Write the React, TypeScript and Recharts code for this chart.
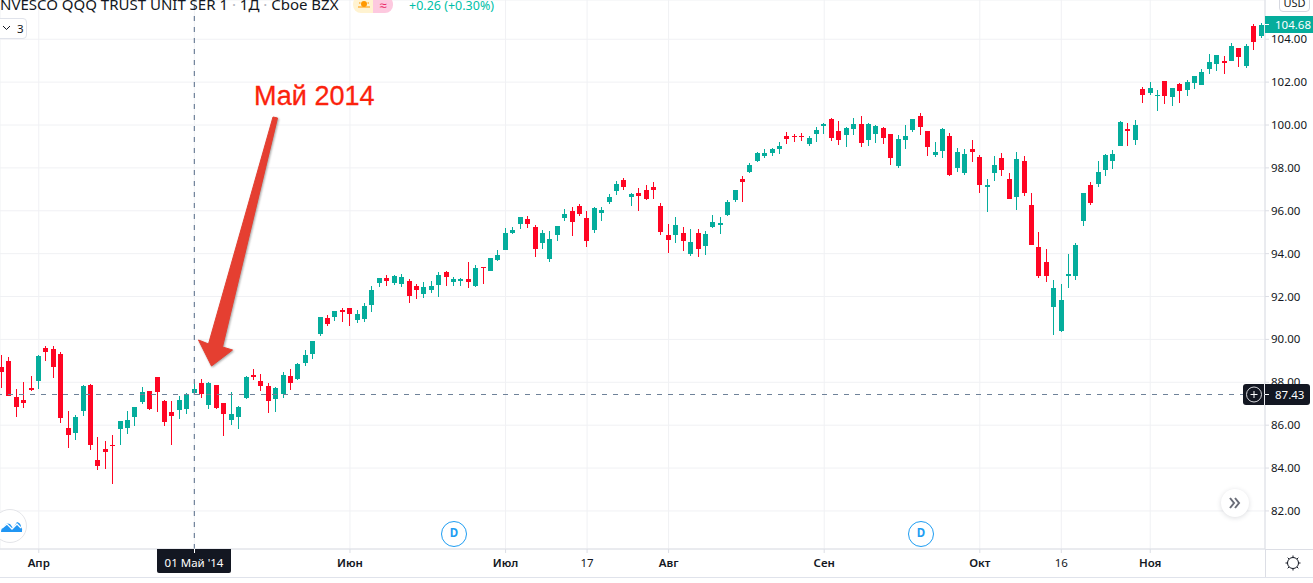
import React from "react";
import {
  Bar,
  CartesianGrid,
  ComposedChart,
  ReferenceLine,
  XAxis,
  YAxis,
} from "recharts";

// QQQ daily candles
const opens = [
  88.71, 88.99, 87.32, 87.18, 87.74, 88.06, 89.6, 89.55, 89.32, 85.88,
  85.64, 86.67, 87.88, 84.39, 84.9, 85.09, 85.83, 85.88, 86.39, 87.09,
  87.6, 88.25, 87.13, 86.62, 86.71, 86.76, 87.5, 87.97, 86.95, 87.88,
  87.04, 86.25, 86.39, 87.27, 88.34, 88.06, 87.83, 87.22, 87.46, 88.29,
  88.16, 88.9, 89.32, 90.26, 91.01, 91.05, 91.38, 91.47, 90.91, 90.96,
  91.61, 92.64, 92.87, 92.64, 92.59, 92.73, 92.5, 92.12, 92.31, 92.54,
  93.15, 92.68, 92.73, 92.82, 92.5, 93.38, 93.19, 93.7, 94.17, 94.96,
  95.38, 95.61, 95.24, 94.5, 93.75, 94.87, 95.66, 95.98, 96.22, 95.66,
  95.1, 95.89, 96.4, 96.91, 97.42, 96.62, 96.81, 96.99, 97.13, 96.2,
  94.85, 94.85, 94.95, 93.97, 94.95, 94.34, 95.22, 95.32, 95.78, 96.48,
  97.46, 97.83, 98.34, 98.57, 98.71, 98.9, 99.5, 99.5, 99.5, 99.13,
  99.6, 99.97, 100.29, 99.74, 99.55, 99.83, 100.06, 99.32, 99.6, 99.87,
  99.6, 98.11, 99.32, 99.78, 100.43, 99.74, 98.62, 98.81, 99.5, 98.01,
  97.74, 98.9, 98.53, 97.13, 97.74, 98.48, 97.5, 96.62, 98.34, 96.29,
  94.29, 93.6, 91.5, 90.39, 92.95, 92.95, 95.5, 97.18, 97.27, 97.92,
  98.34, 99.04, 99.83, 99.32, 101.69, 101.5, 101.36, 102.06, 101.32, 101.92,
  101.64, 101.97, 101.88, 102.62, 102.85, 102.99, 102.99, 103.6, 102.76, 104.62,
  104.15,
];
const highs = [
  89.27, 89.18, 87.67, 88.02, 88.29, 89.27, 89.69, 89.69, 89.41, 86.67,
  86.48, 87.88, 87.92, 85.46, 85.27, 85.55, 86.2, 86.67, 86.85, 87.78,
  87.6, 88.25, 87.18, 87.13, 87.36, 87.5, 88.16, 88.16, 88.02, 87.88,
  87.04, 87.55, 86.9, 88.29, 88.62, 88.39, 87.97, 87.78, 88.48, 88.62,
  88.9, 89.5, 89.92, 91.05, 91.15, 91.33, 91.47, 91.47, 91.38, 91.71,
  92.5, 92.87, 93.01, 93.01, 93.05, 92.82, 92.59, 92.68, 92.73, 93.15,
  93.19, 92.91, 92.87, 93.61, 93.47, 93.38, 93.8, 94.17, 95.19, 95.24,
  95.7, 95.75, 95.33, 95.1, 95.05, 95.29, 96.08, 96.17, 96.31, 95.98,
  96.17, 96.17, 96.77, 97.38, 97.52, 96.85, 97.04, 97.22, 97.32, 96.34,
  95.36, 95.69, 95.22, 95.13, 95.13, 95.04, 95.78, 95.69, 96.48, 96.95,
  97.64, 98.25, 98.76, 98.9, 98.94, 99.22, 99.69, 99.6, 99.64, 99.5,
  99.92, 100.11, 100.34, 100.2, 99.92, 100.34, 100.43, 100.11, 100.01, 99.92,
  99.6, 99.55, 100.01, 100.29, 100.57, 99.74, 99.22, 99.87, 99.64, 98.94,
  98.9, 99.32, 98.62, 97.5, 98.57, 98.71, 97.78, 98.76, 98.57, 96.85,
  94.99, 94.2, 92.76, 92.57, 93.97, 94.48, 96.85, 97.32, 98.34, 98.67,
  98.85, 100.2, 100.11, 100.25, 101.78, 102.02, 101.64, 102.06, 101.74, 101.97,
  102.11, 102.29, 102.62, 103.32, 103.27, 103.22, 103.83, 103.6, 103.78, 104.71,
  104.76,
];
const lows = [
  87.75, 87.36, 86.4, 86.82, 87.6, 87.69, 88.99, 88.2, 86.11, 84.95,
  85.32, 86.43, 84.85, 83.92, 83.97, 83.27, 85.09, 85.6, 85.97, 86.99,
  86.71, 86.62, 85.97, 85.09, 86.29, 86.53, 87.5, 87.27, 86.76, 86.76,
  85.5, 86.02, 85.83, 87.22, 88.11, 87.6, 86.57, 86.62, 87.27, 87.64,
  88.11, 88.76, 89.09, 90.17, 90.64, 90.87, 90.82, 90.64, 90.78, 90.82,
  91.29, 92.45, 92.5, 92.54, 92.45, 91.71, 91.89, 91.94, 92.17, 91.98,
  92.5, 92.5, 92.5, 92.4, 92.45, 92.59, 93.19, 93.66, 94.17, 94.91,
  95.15, 95.19, 93.84, 94.22, 93.61, 94.59, 95.52, 94.82, 95.75, 94.31,
  94.96, 95.52, 96.31, 96.73, 96.96, 96.2, 95.97, 96.48, 96.57, 94.85,
  94.02, 94.48, 94.11, 93.88, 93.83, 93.92, 95.18, 94.9, 95.74, 96.39,
  96.43, 97.74, 98.29, 98.48, 98.57, 98.67, 99.13, 99.22, 99.27, 99.04,
  99.22, 99.6, 99.27, 99.08, 98.99, 99.55, 98.99, 99.04, 99.18, 99.13,
  98.15, 98.01, 98.9, 99.69, 99.55, 98.57, 98.53, 98.48, 97.64, 97.83,
  97.69, 98.29, 96.85, 95.92, 97.41, 97.6, 96.53, 96.02, 96.67, 94.39,
  92.85, 92.67, 90.2, 90.34, 92.39, 92.76, 95.27, 96.25, 97.13, 97.6,
  97.97, 99.04, 99.04, 99.09, 101.04, 101.41, 100.67, 100.99, 100.9, 101.04,
  101.36, 101.69, 101.88, 102.39, 102.53, 102.39, 102.99, 102.71, 102.67, 103.5,
  104.06,
];
const closes = [
  88.48, 87.36, 86.85, 87.04, 87.64, 89.22, 89.41, 88.71, 86.34, 85.55,
  86.39, 87.83, 85.09, 84.11, 84.76, 85.04, 86.2, 86.25, 86.85, 87.55,
  86.76, 87.55, 86.16, 86.43, 87.18, 87.43, 87.69, 87.46, 87.97, 86.81,
  86.53, 86.53, 86.85, 88.25, 88.25, 87.83, 87.13, 87.74, 88.34, 87.97,
  88.85, 89.27, 89.92, 91.05, 90.73, 91.33, 91.29, 91.19, 91.19, 91.57,
  92.31, 92.87, 92.73, 92.96, 92.91, 92.03, 92.31, 92.45, 92.5, 93.01,
  92.91, 92.82, 92.82, 92.68, 93.33, 93.33, 93.8, 93.94, 94.96, 95.1,
  95.7, 95.38, 94.22, 94.96, 94.68, 95.29, 95.84, 95.47, 95.84, 94.59,
  96.12, 96.03, 96.63, 97.24, 97.1, 96.76, 96.71, 96.57, 96.95, 94.99,
  94.62, 95.32, 94.57, 94.53, 94.2, 94.9, 95.46, 95.41, 96.43, 96.95,
  97.36, 98.15, 98.71, 98.71, 98.9, 99.04, 99.36, 99.46, 99.46, 99.41,
  99.78, 100.06, 99.41, 99.32, 99.87, 100.06, 99.18, 100.06, 99.97, 99.41,
  98.48, 99.36, 99.5, 100.29, 99.92, 98.99, 98.76, 99.83, 97.69, 98.76,
  98.67, 98.76, 97.18, 97.22, 98.15, 97.92, 96.53, 98.43, 96.81, 94.39,
  92.95, 92.95, 92.39, 91.83, 93.05, 94.39, 96.85, 96.34, 97.83, 98.62,
  98.67, 100.15, 99.74, 100.02, 101.41, 101.74, 101.41, 101.36, 101.74, 101.6,
  102.02, 102.29, 102.48, 102.95, 103.27, 102.9, 103.69, 103.18, 103.69, 103.88,
  104.68,
];

const priceTicks = [82, 84, 86, 88, 90, 92, 94, 96, 98, 100, 102, 104];
const dateTicks = [5, 26, 47, 68, 79, 90, 111, 132, 143, 155];
// the May tick has no label of its own, the crosshair date box sits on it
const dateLabels = ["Апр", "", "Июн", "Июл", "17", "Авг", "Сен", "Окт", "16", "Ноя"];
const plainDateLabels = ["17", "16"];

const crossIndex = 26;
const crossPrice = 87.43;
const lastPrice = 104.68;

const UP = "#05ad9c";
const DOWN = "#ff0523";
const INK = "#131722";
const FONT = "'Noto Sans', sans-serif";

const candles = opens.map((o, i) => ({
  idx: i,
  open: o,
  close: closes[i],
  high: highs[i],
  low: lows[i],
  range: [lows[i], highs[i]],
}));

// Bar gives the pixel box of low..high, open and close are placed inside it
function Candle(props: any) {
  const { x, y, width, height, payload } = props;
  const top = Math.min(y, y + height);
  const h = Math.abs(height);
  const k = h / (payload.high - payload.low || 1);
  const cx = Math.floor(x + width / 2);
  const bodyTop = top + (payload.high - Math.max(payload.open, payload.close)) * k;
  const bodyBottom = top + (payload.high - Math.min(payload.open, payload.close)) * k;
  const fill = payload.close >= payload.open ? UP : DOWN;
  return (
    <g shapeRendering="crispEdges">
      <rect x={cx} y={top} width={1} height={h} fill={fill} />
      <rect
        x={cx - 2}
        y={bodyTop}
        width={5}
        height={Math.max(bodyBottom - bodyTop, 1)}
        fill={fill}
      />
    </g>
  );
}

function DateTick(props: any) {
  const { x, y, payload } = props;
  const label = dateLabels[dateTicks.indexOf(payload.value)];
  if (!label) return null;
  return (
    <text
      x={x}
      y={y + 12}
      textAnchor="middle"
      fontFamily={FONT}
      fontSize={11.5}
      fontWeight={plainDateLabels.includes(label) ? 400 : 600}
      fill={INK}
    >
      {label}
    </text>
  );
}

function box(style: React.CSSProperties): React.CSSProperties {
  return { position: "absolute", boxSizing: "border-box", ...style };
}

function EventBadge({ left }: { left: number }) {
  return (
    <div
      style={box({
        left,
        top: 521,
        width: 26,
        height: 26,
        borderRadius: 13,
        border: "1.5px solid #1e9df2",
        background: "#fff",
        color: "#1e9df2",
        fontSize: 11.5,
        fontWeight: 700,
        textAlign: "center",
        lineHeight: "22px",
      })}
    >
      D
    </div>
  );
}

export default function App() {
  return (
    <div
      style={{
        position: "absolute",
        left: 0,
        top: 0,
        width: 1313,
        height: 583,
        overflow: "hidden",
        background: "#fff",
        fontFamily: FONT,
      }}
    >
      <ComposedChart
        width={1313}
        height={578}
        data={candles}
        margin={{ top: 0, right: 0, bottom: 0, left: 0 }}
      >
        <CartesianGrid stroke="#f0f1f4" />
        <XAxis
          dataKey="idx"
          type="number"
          domain={[-0.23, 170.49]}
          allowDataOverflow
          ticks={dateTicks}
          interval={0}
          tick={<DateTick />}
          tickSize={4}
          height={29}
          stroke="#dcdee5"
        />
        <YAxis
          orientation="right"
          type="number"
          domain={[80.225, 105.83]}
          allowDataOverflow
          ticks={priceTicks}
          interval={0}
          width={48}
          tickSize={4}
          tickFormatter={(v: number) => v.toFixed(2)}
          tick={{ fontSize: 11.5, fill: INK, fontFamily: FONT }}
          stroke="#dcdee5"
        />
        <ReferenceLine
          x={crossIndex}
          stroke="#6f8299"
          strokeWidth={1.2}
          strokeDasharray="5 6"
        />
        <ReferenceLine
          y={crossPrice}
          stroke="#6f8299"
          strokeWidth={1.2}
          strokeDasharray="5 6"
          strokeDashoffset={2}
        />
        <Bar
          dataKey="range"
          barSize={5}
          shape={<Candle />}
          isAnimationActive={false}
        />
      </ComposedChart>

      {/* pane rules that carry on past the axes */}
      <div style={box({ left: 0, top: 577, width: 1313, height: 1, background: "#e0e3eb" })} />
      <div style={box({ left: 1265, top: 549, width: 48, height: 1, background: "#dcdee5" })} />
      <div style={box({ left: 1265, top: 549, width: 1, height: 28, background: "#dcdee5" })} />

      {/* header, clipped at the top and left like the screenshot */}
      <div
        style={box({
          left: 0,
          top: -6,
          fontSize: 15,
          color: INK,
          whiteSpace: "nowrap",
          lineHeight: "20px",
        })}
      >
        NVESCO QQQ TRUST UNIT SER 1 <span style={{ color: "#b2b5be" }}>·</span> 1Д{" "}
        <span style={{ color: "#b2b5be" }}>·</span> Cboe BZX
      </div>
      <div style={box({ left: 353, top: -4, width: 20, height: 17, background: "#fff3d1", borderRadius: "8px 0 0 8px" })}>
        <svg width={20} height={17}>
          <circle cx={11} cy={8} r={3} fill="#ff9800" />
          <path d="M5 11 H17 M6 7 H7.5 M14.5 7 H16 M11 3 V4" stroke="#ff9800" strokeWidth={1.2} />
        </svg>
      </div>
      <div
        style={box({
          left: 373,
          top: -4,
          width: 20,
          height: 17,
          background: "#fdc9df",
          borderRadius: "0 8px 8px 0",
          color: "#e91e63",
          fontSize: 13,
          textAlign: "center",
          lineHeight: "18px",
        })}
      >
        ≈
      </div>
      <div style={box({ left: 409, top: -4, fontSize: 12.5, color: "#00bfa8", whiteSpace: "nowrap", lineHeight: "20px" })}>
        +0.26 (+0.30%)
      </div>
      <div
        style={box({
          left: -4,
          top: 18,
          width: 31,
          height: 21,
          border: "1px solid #e0e3eb",
          borderRadius: 4,
          background: "#fff",
          color: INK,
          fontSize: 11.5,
          lineHeight: "19px",
          paddingLeft: 20,
        })}
      >
        3
      </div>
      <svg style={box({ left: 2, top: 25, width: 9, height: 6 })} viewBox="0 0 9 6">
        <path d="M1 1 L4.5 4.5 L8 1" fill="none" stroke={INK} strokeWidth={1} />
      </svg>

      {/* USD button and price labels */}
      <div
        style={box({
          left: 1279,
          top: -8,
          width: 31,
          height: 20,
          border: "1px solid #d6d8e0",
          borderRadius: 4,
          fontSize: 11,
          color: INK,
          textAlign: "center",
          lineHeight: "19px",
          background: "#fff",
        })}
      >
        USD
      </div>
      <div
        style={box({
          left: 1265,
          top: 16,
          width: 48,
          height: 17,
          background: UP,
          color: "#fff",
          fontSize: 11.5,
          lineHeight: "17px",
          paddingLeft: 10,
        })}
      >
        {lastPrice.toFixed(2)}
        <div style={box({ left: 0, top: 8, width: 4, height: 1, background: "#fff" })} />
      </div>
      <div style={box({ left: 1243, top: 384, width: 21, height: 21, background: INK, borderRadius: "3px 0 0 3px" })}>
        <svg width={21} height={21}>
          <circle cx={11} cy={10.5} r={7.5} fill="none" stroke="#d5d6da" strokeWidth={1} />
          <path d="M11 7 V14 M7.5 10.5 H14.5" stroke="#fff" strokeWidth={1} />
        </svg>
      </div>
      <div
        style={box({
          left: 1265,
          top: 384,
          width: 45,
          height: 21,
          background: INK,
          color: "#fff",
          fontSize: 11.5,
          lineHeight: "21px",
          paddingLeft: 10,
          borderRadius: "0 3px 3px 0",
        })}
      >
        {crossPrice.toFixed(2)}
        <div style={box({ left: 0, top: 10, width: 4, height: 1, background: "#fff" })} />
      </div>

      {/* crosshair date label */}
      <div
        style={box({
          left: 157,
          top: 549,
          width: 74,
          height: 24,
          background: INK,
          color: "#fff",
          fontSize: 11.5,
          lineHeight: "27px",
          textAlign: "center",
          borderRadius: "0 0 2px 2px",
          whiteSpace: "nowrap",
        })}
      >
        01 Май '14
        <div style={box({ left: 37, top: 0, width: 1, height: 4, background: "#fff" })} />
      </div>

      {/* logo, events, scroll button, settings */}
      <div
        style={box({
          left: -7,
          top: 509,
          width: 34,
          height: 34,
          borderRadius: 17,
          border: "1px solid #e4e5e9",
          background: "#fff",
        })}
      >
        <svg width={22} height={14} style={{ position: "absolute", left: 7, top: 9 }} viewBox="0 0 22 14">
          <path
            d="M0 13 Q0 9 3 8 Q5 3 9 5 L12 9 L16 3 Q20 4 20 8 Q22 10 21 13 Z"
            fill="#2196f3"
          />
          <path d="M1 9 L6 5 L11 10 L16 5 L20 9" fill="none" stroke="#fff" strokeWidth={1.3} />
        </svg>
      </div>
      <EventBadge left={441} />
      <EventBadge left={908} />
      <div
        style={box({
          left: 1221,
          top: 489,
          width: 28,
          height: 28,
          borderRadius: 14,
          background: "#fff",
          boxShadow: "0 1px 5px rgba(40,44,60,0.16)",
        })}
      >
        <svg width={28} height={28}>
          <path
            d="M9 9 L13 14 L9 19 M14 9 L18 14 L14 19"
            fill="none"
            stroke="#6a6d78"
            strokeWidth={2}
          />
        </svg>
      </div>
      <svg style={box({ left: 1284, top: 554, width: 18, height: 18 })} viewBox="0 0 18 18">
        <circle cx={9} cy={9} r={5.5} fill="none" stroke={INK} strokeWidth={1} />
        <path
          d="M9 1.5 V3.5 M9 14.5 V16.5 M1.5 9 H3.5 M14.5 9 H16.5 M3.7 3.7 L5 5 M13 13 L14.3 14.3 M3.7 14.3 L5 13 M13 5 L14.3 3.7"
          stroke={INK}
          strokeWidth={1}
        />
      </svg>

      {/* hand drawn annotation on the screenshot */}
      <div
        style={box({
          left: 254,
          top: 78,
          fontFamily: "'Liberation Sans', sans-serif",
          fontSize: 27,
          color: "#fb220c",
          whiteSpace: "nowrap",
          lineHeight: "36px",
          WebkitTextStroke: "0.3px #fb220c",
        })}
      >
        Май 2014
      </div>
      <svg
        style={box({
          left: 0,
          top: 0,
          width: 400,
          height: 400,
          filter: "drop-shadow(1.5px 1.5px 1px rgba(90,90,90,0.55))",
        })}
      >
        <polygon
          points="273,117 277.5,118 222.5,347 232.5,350 211.5,366 198.5,340 208.5,344"
          fill="#e53f31"
          stroke="#e53f31"
          strokeLinejoin="round"
        />
      </svg>
    </div>
  );
}
